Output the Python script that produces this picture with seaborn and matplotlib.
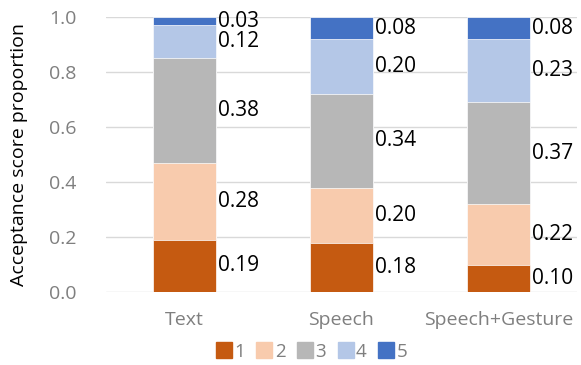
import numpy as np
import pandas as pd
import matplotlib
matplotlib.use("Agg")
import matplotlib.pyplot as plt
from matplotlib.lines import Line2D
import seaborn as sns

categories = ["Text", "Speech", "Speech+Gesture"]
scores = ["1", "2", "3", "4", "5"]
score_1 = [0.19, 0.18, 0.10]
score_2 = [0.28, 0.20, 0.22]
score_3 = [0.38, 0.34, 0.37]
score_4 = [0.12, 0.20, 0.23]
score_5 = [0.03, 0.08, 0.08]
colors = ["#C55A11", "#F8CBAD", "#B7B7B7", "#B4C7E7", "#4472C4"]
yticks = [0.0, 0.2, 0.4, 0.6, 0.8, 1.0]

series = [score_1, score_2, score_3, score_4, score_5]
rows = []
for s, vals in zip(scores, series):
    for c, v in zip(categories, vals):
        rows.append({"category": c, "score": s, "value": v})
df = pd.DataFrame(rows)
df["bottom"] = df.groupby("category", sort=False)["value"].cumsum() - df["value"]
df["top"] = df["bottom"] + df["value"]

sns.set_theme(style="white")
plt.rcParams["font.family"] = ["Open Sans", "DejaVu Sans"]

fig = plt.figure(figsize=(5.81, 3.65), dpi=100)
ax = fig.add_axes([0.182, 0.2, 0.811, 0.753])

# stacked bars: draw cumulative tops from the highest score down
for s, col in reversed(list(zip(scores, colors))):
    sub = df[df["score"] == s]
    sns.barplot(data=sub, x="category", y="top", order=categories,
                color=col, width=0.4, ax=ax, saturation=1,
                edgecolor="white", linewidth=0.5)

# value labels beside each segment
for i, c in enumerate(categories):
    sub = df[df["category"] == c]
    for _, r in sub.iterrows():
        ax.text(i + 0.215, r["bottom"] + r["value"] / 2, f"{r['value']:.2f}",
                ha="left", va="center", fontsize=15, color="black")

ax.set_ylim(0, 1.0)
ax.set_xlim(-0.5, 2.5)
ax.set_yticks(yticks)
ax.set_yticklabels([f"{t:.1f}" for t in yticks])
ax.yaxis.grid(True, color="#D9D9D9", linewidth=1)
ax.set_axisbelow(True)
for sp in ax.spines.values():
    sp.set_visible(False)
ax.tick_params(axis="both", length=0, labelsize=14, colors="#7F7F7F")
ax.tick_params(axis="y", pad=21)
ax.tick_params(axis="x", pad=14)
ax.set_xlabel("")
ax.set_ylabel("Acceptance score proportion", fontsize=14, color="black")
ax.yaxis.set_label_coords(-0.166, 0.5)

handles = [Line2D([], [], marker="s", linestyle="none", markersize=11,
                  markerfacecolor=col, markeredgecolor=col) for col in colors]
fig.legend(handles, scores, loc="center", bbox_to_anchor=(0.535, 0.036), ncol=5,
           frameon=False, fontsize=13.5, handletextpad=0.05, columnspacing=0.55,
           handlelength=1.0, labelcolor="#7F7F7F")

fig.savefig("out.png", dpi=100)
